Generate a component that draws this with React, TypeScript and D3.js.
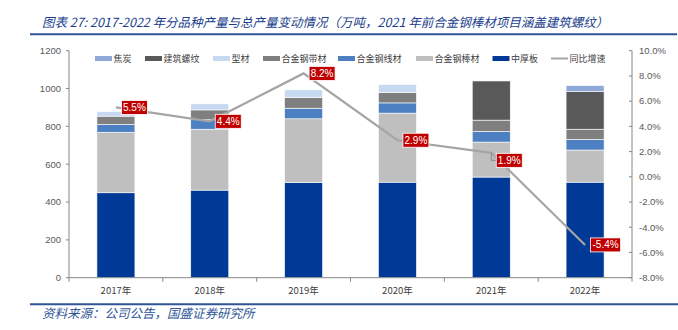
import React from "react";
import * as d3 from "d3";

const years = ["2017年", "2018年", "2019年", "2020年", "2021年", "2022年"];
const zhonghouban = [449, 463, 504, 505, 532, 505];
const bangcai = [320, 322, 336, 365, 185, 170];
const xiancai = [41, 50, 56, 54, 56, 56];
const daicai = [44, 52, 56, 56, 60, 54];
const xingcai = [24, 32, 41, 41, 0, 0];
const luowen = [0, 0, 0, 0, 207, 199];
const jiaotan = [0, 0, 0, 0, 0, 32];
const growth = [5.5, 4.4, 8.2, 2.9, 1.9, -5.4];

const leftTicks = [0, 200, 400, 600, 800, 1000, 1200];
const rightTicks = [-8, -6, -4, -2, 0, 2, 4, 6, 8, 10];

const seriesNames = ["中厚板", "合金钢棒材", "合金钢线材", "合金钢带材", "型材", "建筑螺纹", "焦炭"];
const seriesValues = [zhonghouban, bangcai, xiancai, daicai, xingcai, luowen, jiaotan];
const seriesColors = ["#003A96", "#BFBFBF", "#4C80C3", "#7F7F7F", "#C6D9F0", "#595959", "#8EA9D8"];

const legendOrder = ["焦炭", "建筑螺纹", "型材", "合金钢带材", "合金钢线材", "合金钢棒材", "中厚板"];
const lineName = "同比增速";

const W = 678;
const H = 330;
const plotL = 69;
const plotR = 632;
const plotT = 50.7;
const plotB = 277.7;

const cjk = "'Noto Sans CJK SC', 'Liberation Sans', sans-serif";
const num = "'Liberation Sans', Arial, sans-serif";

export default function App() {
  const x = d3
    .scaleBand<string>()
    .domain(years)
    .range([plotL, plotR])
    .paddingInner(0.595)
    .paddingOuter(0.2975);
  const y = d3.scaleLinear().domain([0, 1200]).range([plotB, plotT]);
  const y2 = d3.scaleLinear().domain([-8, 10]).range([plotB, plotT]);

  const rows = years.map((yr, i) => {
    const r: any = { year: yr };
    seriesNames.forEach((n, k) => (r[n] = seriesValues[k][i]));
    return r;
  });
  const stacked = d3.stack<any>().keys(seriesNames)(rows);

  const step = x.step();
  const cx = (yr: string) => (x(yr) as number) + x.bandwidth() / 2;

  const line = d3
    .line<number>()
    .x((_, i) => cx(years[i]))
    .y((d) => y2(d));

  const legendX = [95, 145, 213, 263, 338, 416, 492.5];
  const legendY = 58.5;

  return (
    <svg width={W} height={H} style={{ position: "absolute", left: 0, top: 0, background: "#fff" }}>
      {/* title */}
      <text x={42} y={26.5} fontFamily={cjk} fontSize={12.5} fontStyle="italic" fill="#203D8C">
        图表 27: 2017-2022 年分品种产量与总产量变动情况（万吨，2021 年前合金钢棒材项目涵盖建筑螺纹）
      </text>
      <line x1={30} x2={677} y1={34.3} y2={34.3} stroke="#2F5597" strokeWidth={2} />

      {/* legend */}
      {legendOrder.map((n, i) => {
        const k = seriesNames.indexOf(n);
        return (
          <g key={n}>
            <rect x={legendX[i]} y={legendY - 2.5} width={17} height={5} fill={seriesColors[k]} />
            <text x={legendX[i] + 18.5} y={legendY + 3.2} fontFamily={cjk} fontSize={9} fill="#404040">
              {n}
            </text>
          </g>
        );
      })}
      <line x1={551} x2={568} y1={legendY} y2={legendY} stroke="#A5A5A5" strokeWidth={2} />
      <text x={569.5} y={legendY + 3.2} fontFamily={cjk} fontSize={9} fill="#404040">
        {lineName}
      </text>

      {/* bars */}
      {stacked.map((s, k) => (
        <g key={seriesNames[k]} fill={seriesColors[k]}>
          {s.map((d, i) =>
            d[1] - d[0] > 0 ? (
              <rect
                key={i}
                x={x(years[i])}
                width={x.bandwidth()}
                y={y(d[1])}
                height={y(d[0]) - y(d[1])}
                stroke="#fff"
                strokeWidth={0.6}
              />
            ) : null
          )}
        </g>
      ))}

      {/* left axis */}
      <line x1={plotL} x2={plotL} y1={plotT} y2={plotB} stroke="#868686" strokeWidth={1} />
      {leftTicks.map((t) => (
        <g key={t}>
          <line x1={plotL - 3} x2={plotL} y1={y(t)} y2={y(t)} stroke="#868686" />
          <text x={61} y={y(t) + 3.3} textAnchor="end" fontFamily={num} fontSize={9.5} fill="#595959">
            {t}
          </text>
        </g>
      ))}

      {/* right axis */}
      <line x1={plotR} x2={plotR} y1={plotT} y2={plotB} stroke="#868686" strokeWidth={1} />
      {rightTicks.map((t) => (
        <g key={t}>
          <line x1={plotR - 3} x2={plotR} y1={y2(t)} y2={y2(t)} stroke="#868686" />
          <text x={639} y={y2(t) + 3.3} fontFamily={num} fontSize={9.5} fill="#595959">
            {t.toFixed(1) + "%"}
          </text>
        </g>
      ))}

      {/* x axis */}
      <line x1={plotL} x2={plotR} y1={plotB} y2={plotB} stroke="#868686" strokeWidth={1} />
      {d3.range(years.length + 1).map((i) => (
        <line
          key={i}
          x1={plotL + i * step}
          x2={plotL + i * step}
          y1={plotB}
          y2={plotB + 4}
          stroke="#868686"
        />
      ))}
      {years.map((yr) => (
        <text key={yr} x={cx(yr)} y={293.5} textAnchor="middle" fontFamily={cjk} fontSize={9.5} fill="#404040">
          {yr}
        </text>
      ))}

      {/* growth line */}
      <path d={line(growth) || ""} fill="none" stroke="#A5A5A5" strokeWidth={2.2} />

      {/* labels */}
      {growth.map((g, i) => {
        const px = cx(years[i]);
        const py = y2(g);
        const dy = i === 4 ? 7.5 : 0;
        const bx = px + (i === 4 ? 5 : 5.5);
        const by = py + dy;
        const label = g.toFixed(1) + "%";
        const bw = label.length > 4 ? 30 : 26;
        return (
          <g key={i}>
            {dy !== 0 ? (
              <path
                d={`M${px},${py} V${by} H${bx}`}
                fill="none"
                stroke="#7F7F7F"
                strokeWidth={0.8}
              />
            ) : null}
            <rect x={bx} y={by - 7} width={bw} height={14} fill="#C00000" stroke="#fff" strokeWidth={0.8} />
            <text
              x={bx + bw / 2}
              y={by + 3.5}
              textAnchor="middle"
              fontFamily={num}
              fontSize={10}
              fill="#fff"
            >
              {label}
            </text>
          </g>
        );
      })}

      {/* source */}
      <line x1={30} x2={678} y1={304.3} y2={304.3} stroke="#2F5597" strokeWidth={2} />
      <text x={42} y={317.5} fontFamily={cjk} fontSize={12.5} fontStyle="italic" fill="#2F5597">
        资料来源：公司公告，国盛证券研究所
      </text>
    </svg>
  );
}
